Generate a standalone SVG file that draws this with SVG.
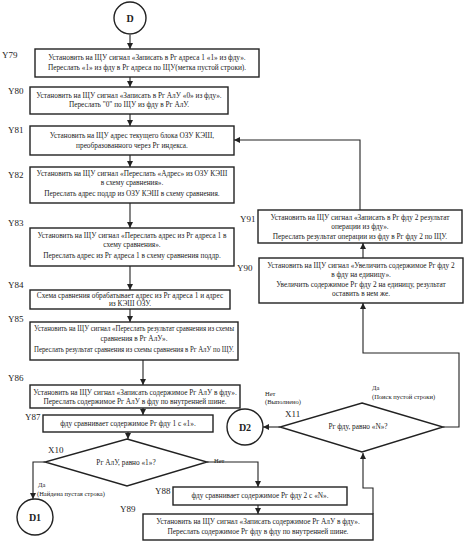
<svg xmlns="http://www.w3.org/2000/svg" width="469" height="548" viewBox="0 0 469 548">
<style>
.b{fill:#fff;stroke:#222;stroke-width:1.4}
.c{fill:none;stroke:#222;stroke-width:1.1}
.t{font-family:"Liberation Serif",serif;font-size:7.3px;fill:#222;text-anchor:middle}
.l{font-family:"Liberation Serif",serif;font-size:9px;fill:#222}
.s{font-family:"Liberation Serif",serif;font-size:6.5px;fill:#222}
.k{font-family:"Liberation Serif",serif;font-size:10px;fill:#222;text-anchor:middle;font-weight:bold}
</style>
<defs>
<marker id="a" viewBox="0 0 8 8" refX="8" refY="4" markerWidth="6" markerHeight="6" orient="auto" markerUnits="userSpaceOnUse">
<path d="M0,0 L8,4 L0,8 Z" fill="#222"/>
</marker>
</defs>
<rect width="469" height="548" fill="#fff"/>
<g id="connectors">
<line class="c" x1="130" y1="35" x2="130" y2="49" marker-end="url(#a)"/>
<line class="c" x1="130" y1="77" x2="130" y2="87" marker-end="url(#a)"/>
<line class="c" x1="130" y1="114" x2="130" y2="126" marker-end="url(#a)"/>
<line class="c" x1="130" y1="155" x2="130" y2="167" marker-end="url(#a)"/>
<line class="c" x1="130" y1="203" x2="130" y2="228" marker-end="url(#a)"/>
<line class="c" x1="130" y1="266" x2="130" y2="290" marker-end="url(#a)"/>
<line class="c" x1="130" y1="309" x2="130" y2="322" marker-end="url(#a)"/>
<line class="c" x1="143" y1="360" x2="143" y2="385" marker-end="url(#a)"/>
<line class="c" x1="143" y1="408" x2="143" y2="415" marker-end="url(#a)"/>
<line class="c" x1="128" y1="432" x2="128" y2="439" marker-end="url(#a)"/>
<polyline class="c" points="45,462 33,462 33,499" marker-end="url(#a)"/>
<polyline class="c" points="207,462 258,462 258,487" marker-end="url(#a)"/>
<line class="c" x1="258" y1="505" x2="258" y2="514" marker-end="url(#a)"/>
<polyline class="c" points="373,514 373,488 363,488 363,453" marker-end="url(#a)"/>
<line class="c" x1="280" y1="427" x2="263" y2="427" marker-end="url(#a)"/>
<polyline class="c" points="443,427 459,427 459,353 363,353 363,303" marker-end="url(#a)"/>
<line class="c" x1="363" y1="258" x2="363" y2="243" marker-end="url(#a)"/>
<polyline class="c" points="360,210 360,140 234,140" marker-end="url(#a)"/>
</g>
<g id="D">
<circle class="b" cx="130" cy="18" r="16"/>
<text class="k" x="130" y="22">D</text>
</g>
<g id="Y79">
<rect class="b" x="35" y="49" width="224" height="28"/>
<text class="t" x="147" y="60">Установить на ЩУ сигнал «Записать в Рг адреса 1 «1» из фду».</text>
<text class="t" x="147" y="70">Переслать «1» из фду в Рг адреса по ЩУ(метка пустой строки).</text>
<text class="l" x="2" y="58">Y79</text>
</g>
<g id="Y80">
<rect class="b" x="30" y="87" width="198" height="27"/>
<text class="t" x="129" y="98">Установить на ЩУ сигнал «Записать в Рг АлУ «0» из фду».</text>
<text class="t" x="129" y="107">Переслать "0" по ЩУ из фду в Рг АлУ.</text>
<text class="l" x="8" y="94">Y80</text>
</g>
<g id="Y81">
<rect class="b" x="30" y="126" width="204" height="29"/>
<text class="t" x="132" y="138">Установить на ЩУ адрес текущего блока ОЗУ КЭШ,</text>
<text class="t" x="132" y="148">преобразованного через Рг индекса.</text>
<text class="l" x="8" y="133">Y81</text>
</g>
<g id="Y82">
<rect class="b" x="30" y="167" width="204" height="36"/>
<text class="t" x="132" y="176">Установить на ЩУ сигнал «Переслать «Адрес» из ОЗУ КЭШ</text>
<text class="t" x="132" y="185">в схему сравнения».</text>
<text class="t" x="132" y="196">Переслать адрес поддр из ОЗУ КЭШ в схему сравнения.</text>
<text class="l" x="8" y="178">Y82</text>
</g>
<g id="Y83">
<rect class="b" x="30" y="228" width="204" height="38"/>
<text class="t" x="132" y="238">Установить на ЩУ сигнал «Переслать адрес из Рг адреса 1 в</text>
<text class="t" x="132" y="247">схему сравнения».</text>
<text class="t" x="132" y="258">Переслать адрес из Рг адреса 1 в схему сравнения поддр.</text>
<text class="l" x="8" y="226">Y83</text>
</g>
<g id="Y84">
<rect class="b" x="30" y="290" width="200" height="19"/>
<text class="t" x="130" y="298">Схема сравнения обрабатывает адрес из Рг адреса 1 и адрес</text>
<text class="t" x="130" y="306">из КЭШ ОЗУ.</text>
<text class="l" x="8" y="288">Y84</text>
</g>
<g id="Y85">
<rect class="b" x="30" y="322" width="208" height="38"/>
<text class="t" x="134" y="331" textLength="200" lengthAdjust="spacingAndGlyphs">Установить на ЩУ сигнал «Переслать результат сравнения из схемы</text>
<text class="t" x="134" y="341">сравнения в Рг АлУ».</text>
<text class="t" x="134" y="352" textLength="200" lengthAdjust="spacingAndGlyphs">Переслать результат сравнения из схемы сравнения в Рг АлУ по ЩУ.</text>
<text class="l" x="8" y="322">Y85</text>
</g>
<g id="Y86">
<rect class="b" x="30" y="385" width="210" height="23"/>
<text class="t" x="135" y="395">Установить на ЩУ сигнал «Записать содержимое Рг АлУ в фду».</text>
<text class="t" x="135" y="404">Переслать содержимое Рг АлУ в фду по внутренней шине.</text>
<text class="l" x="8" y="381">Y86</text>
</g>
<g id="Y87">
<rect class="b" x="43" y="415" width="170" height="17"/>
<text class="t" x="128" y="426">фду сравнивает содержимое Рг фду 1 с «1».</text>
<text class="l" x="25" y="420">Y87</text>
</g>
<g id="X10">
<polygon class="b" points="127,439 207,462 127,486 45,462"/>
<text class="t" x="126" y="465">Рг АлУ, равно «1»?</text>
<text class="l" x="48" y="453">X10</text>
<text class="s" x="214" y="463">Нет</text>
<text class="s" x="38" y="487">Да</text>
<text class="s" x="37" y="496">(Найдена пустая строка)</text>
</g>
<g id="D1">
<circle class="b" cx="35" cy="517" r="18"/>
<text class="k" x="35" y="521">D1</text>
</g>
<g id="Y88">
<rect class="b" x="173" y="487" width="174" height="18"/>
<text class="t" x="260" y="498">фду сравнивает содержимое Рг фду 2 с «N».</text>
<text class="l" x="155" y="494">Y88</text>
</g>
<g id="Y89">
<rect class="b" x="143" y="514" width="230" height="26"/>
<text class="t" x="258" y="524">Установить на ЩУ сигнал «Записать содержимое Рг АлУ в фду».</text>
<text class="t" x="258" y="534">Переслать содержимое Рг фду в фду по внутренней шине.</text>
<text class="l" x="120" y="512">Y89</text>
</g>
<g id="X11">
<polygon class="b" points="362,403 443,427 362,452 280,427"/>
<text class="t" x="358" y="429">Рг фду, равно «N»?</text>
<text class="l" x="285" y="417">X11</text>
<text class="s" x="265" y="396">Нет</text>
<text class="s" x="265" y="404">(Выполнено)</text>
<text class="s" x="372" y="390">Да</text>
<text class="s" x="372" y="399">(Поиск пустой строки)</text>
</g>
<g id="D2">
<circle class="b" cx="245" cy="427" r="18"/>
<text class="k" x="245" y="431">D2</text>
</g>
<g id="Y90">
<rect class="b" x="259" y="258" width="204" height="45"/>
<text class="t" x="361" y="268">Установить на ЩУ сигнал «Увеличить содержимое Рг фду 2</text>
<text class="t" x="361" y="277">в фду на единицу».</text>
<text class="t" x="361" y="287">Увеличить содержимое Рг фду 2 на единицу, результат</text>
<text class="t" x="361" y="296">оставить в нем же.</text>
<text class="l" x="237" y="271">Y90</text>
</g>
<g id="Y91">
<rect class="b" x="258" y="210" width="204" height="33"/>
<text class="t" x="360" y="220">Установить на ЩУ сигнал «Записать в Рг фду 2 результат</text>
<text class="t" x="360" y="229">операции из фду».</text>
<text class="t" x="360" y="239">Переслать результат операции из фду в Рг фду 2 по ЩУ.</text>
<text class="l" x="240" y="222">Y91</text>
</g>
</svg>
